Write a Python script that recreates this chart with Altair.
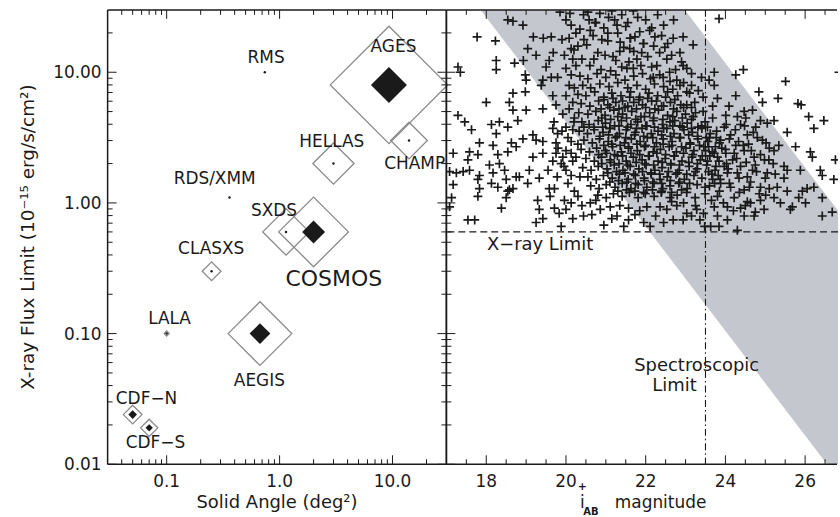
import altair as alt
import pandas as pd

FONT = "DejaVu Sans"
INK = "#1a1a1a"
W_LEFT, W_RIGHT, H = 340, 393, 456

# ---------------- left panel: survey depth vs. area ----------------
survey = ["AGES", "RMS", "CHAMP", "HELLAS", "RDS/XMM", "SXDS", "COSMOS",
          "CLASXS", "LALA", "AEGIS", "CDF−N", "CDF−S"]
solid_angle = [9.3, 0.74, 14.0, 3.0, 0.36, 1.14, 2.0, 0.25, 0.1, 0.67, 0.05, 0.07]
flux_limit = [8.0, 10.0, 3.0, 2.0, 1.1, 0.6, 0.6, 0.3, 0.1, 0.1, 0.024, 0.019]
n_xray = [5100, 0, 500, 630, 0, 800, 1800, 130, 10, 1500, 130, 110]
n_spec = [480, 0, 0, 0, 0, 0, 195, 0, 0, 160, 28, 20]
label_x = [10.2, 0.76, 15.7, 2.9, 0.266, 0.893, 3.02, 0.248, 0.106, 0.662, 0.0663, 0.0796]
label_y = [15.7, 12.9, 1.98, 2.91, 1.52, 0.871, 0.262, 0.444, 0.130, 0.0437, 0.0313, 0.0146]

area_major = [0.1, 1, 10]
area_labels = ["0.1", "1.0", "10.0"]
area_minor = [0.04, 0.05, 0.06, 0.07, 0.08, 0.09, 0.2, 0.3, 0.4, 0.5, 0.6, 0.7,
              0.8, 0.9, 2, 3, 4, 5, 6, 7, 8, 9, 20]
flux_major = [0.01, 0.1, 1, 10]
flux_labels = ["0.01", "0.10", "1.00", "10.00"]
flux_minor = [0.02, 0.03, 0.04, 0.05, 0.06, 0.07, 0.08, 0.09, 0.2, 0.3, 0.4, 0.5,
              0.6, 0.7, 0.8, 0.9, 2, 3, 4, 5, 6, 7, 8, 9, 20]

# ---------------- right panel: X-ray flux vs. optical magnitude ----------------
# (i_AB magnitude, log10 X-ray flux) of individual sources
src_field = [
    (17.77, 1.27), (18.23, 1.24), (18.54, 1.40), (18.67, 1.39), (18.92, 1.36), (19.18, 1.27),
    (19.43, 1.26), (19.63, 1.27), (19.04, 1.18), (19.25, 1.13), (19.68, 1.15), (18.25, 1.09),
    (18.25, 1.02), (18.71, 1.07), (18.93, 1.09), (17.29, 1.04), (17.35, 1.00), (18.98, 0.98),
    (19.00, 0.94), (19.50, 1.04), (19.58, 1.09), (19.42, 0.94), (19.63, 0.96), (19.79, 0.96),
    (19.38, 0.90), (18.67, 0.84), (18.98, 0.85), (18.00, 0.77), (18.58, 0.77), (18.67, 0.71),
    (19.00, 0.71), (19.42, 0.72), (19.67, 0.82), (19.75, 0.75), (19.92, 0.68), (17.29, 0.67),
    (17.46, 0.62), (18.33, 0.62), (18.79, 0.63),
    (20.00, 1.40), (20.13, 1.36), (20.08, 1.26), (20.13, 1.18), (19.96, 1.13), (20.17, 1.10),
    (20.00, 1.03), (20.13, 0.98), (20.08, 0.90), (20.21, 0.88), (20.00, 0.82), (20.17, 0.77),
    (20.08, 0.72), (20.21, 0.65),
    (17.63, 0.56), (18.13, 0.60), (18.54, 0.58), (18.25, 0.53), (17.83, 0.46), (18.17, 0.44),
    (18.63, 0.46), (18.75, 0.43), (18.92, 0.49), (19.17, 0.52), (19.25, 0.48), (19.42, 0.47),
    (19.67, 0.57), (19.79, 0.53), (19.75, 0.46), (20.00, 0.58), (20.17, 0.56), (20.13, 0.47),
    (17.17, 0.38), (17.58, 0.39), (17.79, 0.37), (18.29, 0.37), (18.54, 0.39), (19.17, 0.35),
    (19.42, 0.38), (19.75, 0.38), (19.92, 0.35), (20.13, 0.38),
    (17.54, 0.33), (18.08, 0.29), (18.33, 0.30), (19.67, 0.32), (19.88, 0.30), (20.17, 0.32),
    (17.08, 0.24), (17.25, 0.23), (17.42, 0.24), (17.58, 0.25), (17.83, 0.21), (18.17, 0.23),
    (18.46, 0.25), (18.75, 0.20), (19.08, 0.25), (20.00, 0.25), (20.13, 0.21),
    (17.17, 0.14), (17.79, 0.18), (18.13, 0.15), (18.50, 0.18), (18.83, 0.20), (19.04, 0.15),
    (19.33, 0.19), (17.83, 0.11), (18.29, 0.12), (18.58, 0.10), (18.67, 0.11), (19.58, 0.11),
    (19.71, 0.11), (17.13, 0.04), (17.79, 0.05), (18.50, 0.04), (18.54, 0.09), (19.29, 0.02),
    (19.96, 0.02), (20.13, 0.00), (20.21, 0.09), (17.08, -0.03), (18.38, -0.04), (19.33, -0.05),
    (19.71, -0.04), (19.83, -0.08), (17.54, -0.13), (17.71, -0.13), (19.25, -0.15),
    (19.42, -0.12), (19.88, -0.18), (20.17, -0.12),
    (19.70, 0.62), (19.90, 0.55), (20.05, 0.50), (20.30, 0.45), (19.80, 0.42), (20.00, 0.40),
    (20.25, 0.35), (19.95, 0.28), (20.35, 0.20), (19.78, 0.20), (20.05, 0.15), (20.30, 0.05),
    (19.60, 0.05), (20.00, -0.05), (20.40, -0.02), (19.55, 0.25), (20.45, 0.58), (20.20, 0.62),
]
src_faint = [
    (23.84, 1.41), (23.72, 1.00), (24.26, 0.98), (24.45, 1.02), (23.59, 0.94), (23.72, 0.90),
    (25.51, 0.93), (23.80, 0.80), (24.26, 0.82), (24.84, 0.85), (24.93, 0.77), (25.32, 0.80),
    (25.82, 0.76), (25.90, 0.75), (23.68, 0.74), (24.09, 0.74), (24.47, 0.70), (24.68, 0.71),
    (24.01, 0.67), (24.30, 0.66), (24.51, 0.65), (24.88, 0.63), (25.22, 0.63), (26.09, 0.66),
    (26.47, 0.63), (23.68, 0.65), (26.85, 1.00),
    (26.22, 0.57), (25.55, 0.54), (25.76, 0.43), (26.13, 0.39), (26.18, 0.35), (26.76, 0.33),
    (26.38, 0.25), (26.43, 0.21), (26.72, 0.18), (25.88, 0.25), (26.05, 0.11), (26.22, 0.12),
    (26.43, 0.04), (26.68, -0.07), (26.43, -0.10), (25.93, 0.09), (25.68, -0.03), (25.63, -0.05),
    (25.38, 0.00), (25.22, 0.04), (25.01, 0.06), (24.88, 0.02), (24.63, 0.00), (24.47, -0.10),
    (24.30, -0.21), (24.72, -0.10), (24.05, -0.13), (23.84, -0.18), (23.63, -0.18), (25.55, 0.09),
    (25.30, 0.12), (25.47, 0.19), (25.05, 0.23), (25.84, 0.04), (26.01, 0.00), (25.09, 0.33),
    (25.22, 0.40), (25.47, 0.28), (25.55, 0.25), (24.93, 0.48), (25.34, 0.44), (24.55, 0.52),
    (24.76, 0.58), (25.05, 0.61), (24.13, 0.52), (23.88, 0.48), (24.26, 0.44), (24.47, 0.40),
    (24.72, 0.35), (24.18, 0.33), (24.38, 0.28), (24.68, 0.25), (24.05, 0.23), (24.34, 0.19),
    (24.63, 0.16), (24.88, 0.12), (23.88, 0.15), (24.13, 0.12), (24.47, 0.10), (23.80, 0.05),
    (24.22, 0.04), (24.55, 0.01), (23.72, -0.03), (24.05, -0.03), (24.38, -0.04), (24.97, -0.05),
    (23.80, -0.10), (23.72, 0.38), (23.76, 0.28), (23.68, 0.18), (24.01, 0.38), (23.97, 0.58),
    (24.38, 0.60),
    (23.55, 0.58), (23.78, 0.55), (24.02, 0.60), (24.25, 0.56), (24.48, 0.59), (24.70, 0.54),
    (23.60, 0.50), (23.85, 0.46), (24.10, 0.49), (24.33, 0.47), (24.58, 0.45), (24.80, 0.50),
    (25.02, 0.46), (23.50, 0.40), (23.75, 0.43), (24.00, 0.41), (24.22, 0.38), (24.45, 0.44),
    (24.65, 0.40), (24.88, 0.37), (25.10, 0.42), (23.55, 0.32), (23.80, 0.35), (24.03, 0.30),
    (24.28, 0.34), (24.52, 0.31), (24.75, 0.29), (24.98, 0.33), (25.20, 0.30), (23.58, 0.24),
    (23.82, 0.21), (24.07, 0.26), (24.30, 0.23), (24.55, 0.20), (24.78, 0.24), (25.00, 0.19),
    (25.25, 0.22), (23.60, 0.13), (23.85, 0.09), (24.10, 0.15), (24.35, 0.08), (24.60, 0.12),
    (24.85, 0.07), (25.10, 0.11), (23.65, 0.02), (23.95, 0.00), (24.20, -0.06), (24.50, -0.02),
    (24.75, -0.07),
]
src_bright_band = [
    (21.69, 1.47), (21.07, 1.42), (20.44, 1.44), (20.73, 1.38), (21.28, 1.36), (20.61, 1.32),
    (22.23, 1.27), (22.69, 1.26), (22.94, 1.27), (21.61, 1.26), (21.73, 1.27), (21.94, 1.22),
    (21.36, 1.23), (22.48, 1.19), (23.19, 1.21), (22.86, 1.15), (21.90, 1.15), (22.53, 1.10),
    (22.28, 1.05), (22.15, 1.04), (21.78, 1.10), (21.53, 1.03), (21.69, 1.03), (22.94, 1.05),
    (23.03, 1.03), (23.15, 0.99), (23.40, 0.96), (22.44, 0.96), (22.19, 0.96), (22.61, 0.93),
    (22.86, 0.90), (22.78, 0.94), (23.15, 0.90), (23.32, 0.86), (23.03, 0.85), (23.44, 0.81),
    (23.23, 0.77), (23.03, 0.75), (23.44, 0.70), (23.19, 0.66), (22.73, 0.63),
    (20.35, 1.33), (20.52, 1.21), (20.68, 1.28), (20.80, 1.15), (20.95, 1.34), (21.05, 1.24),
    (21.18, 1.12), (21.30, 1.30), (21.45, 1.19), (21.58, 1.08), (21.70, 1.16), (21.85, 1.31),
    (21.95, 1.22), (20.40, 1.10), (20.60, 1.05), (20.88, 1.02), (21.12, 1.01), (21.40, 1.04),
    (20.30, 1.20), (20.75, 1.38), (21.22, 1.40), (21.50, 1.35), (20.45, 1.25), (20.98, 1.13),
    (21.62, 1.26), (22.05, 1.12), (22.10, 1.32), (21.88, 1.05), (20.58, 1.40), (21.35, 1.16),
    (19.85, 1.46), (20.10, 1.45), (20.25, 1.30), (20.55, 1.46), (20.85, 1.45), (20.90, 1.25),
    (21.15, 1.47), (21.40, 1.44), (21.55, 1.38), (21.80, 1.42), (22.00, 1.40), (22.30, 1.44),
    (22.45, 1.36), (22.70, 1.40), (22.20, 1.20), (22.40, 1.28), (22.65, 1.13), (22.90, 1.08),
    (22.75, 1.02), (22.35, 1.15), (21.25, 1.09), (20.70, 1.10), (20.25, 1.05), (19.90, 1.25),
    (20.20, 1.17), (21.05, 1.30), (21.60, 1.18), (22.15, 1.34), (22.55, 1.22),
]
src_near_limit = [
    (20.44, -0.10), (20.65, -0.09), (21.28, -0.10), (21.57, -0.13), (21.73, -0.09), (22.11, -0.18),
    (22.69, -0.13), (22.53, -0.05), (22.03, -0.03), (21.57, -0.04), (21.11, -0.03), (20.86, -0.05),
    (20.61, 0.00), (23.03, -0.08), (23.28, -0.05), (23.36, -0.13), (23.48, -0.18), (22.94, -0.13),
    (22.36, -0.03), (22.78, -0.02),
    (21.35, -0.02), (21.85, -0.06), (22.25, -0.10), (22.95, 0.00), (23.15, -0.10), (22.45, -0.15),
    (21.95, -0.15), (21.45, -0.18), (23.25, -0.02), (22.65, 0.01), (21.15, -0.12), (20.95, -0.17),
    (20.75, 0.02), (23.45, -0.08),
]
src_core_upper = [
    (20.35, 0.97), (20.55, 0.95), (20.78, 0.99), (21.00, 0.96), (21.25, 0.98), (21.48, 0.94),
    (21.70, 0.97), (21.92, 0.99), (22.12, 0.95), (22.35, 0.98), (22.60, 1.00),
    (20.42, 0.90), (20.62, 0.88), (20.85, 0.91), (21.08, 0.89), (21.30, 0.92), (21.55, 0.88),
    (21.78, 0.90), (22.00, 0.87), (22.22, 0.91), (22.45, 0.89), (22.68, 0.87), (22.95, 0.92),
    (20.30, 0.83), (20.50, 0.82), (20.72, 0.85), (20.95, 0.81), (21.15, 0.84), (21.38, 0.82),
    (21.62, 0.85), (21.85, 0.81), (22.08, 0.84), (22.30, 0.82), (22.55, 0.85), (22.80, 0.82),
    (23.10, 0.84),
    (20.38, 0.76), (20.60, 0.74), (20.82, 0.78), (21.05, 0.75), (21.25, 0.77), (21.48, 0.73),
    (21.70, 0.77), (21.92, 0.75), (22.15, 0.78), (22.40, 0.74), (22.62, 0.77), (22.88, 0.75),
    (23.15, 0.73),
    (20.32, 0.69), (20.55, 0.68), (20.75, 0.70), (20.98, 0.67), (21.20, 0.71), (21.42, 0.68),
    (21.65, 0.70), (21.88, 0.66), (22.10, 0.69), (22.32, 0.71), (22.55, 0.67), (22.78, 0.70),
    (23.00, 0.68), (23.25, 0.69),
]
src_core_lower = [
    (20.40, 0.62), (20.58, 0.60), (20.81, 0.63), (20.99, 0.61), (21.22, 0.59), (21.39, 0.63),
    (21.63, 0.60), (21.80, 0.62), (22.03, 0.59), (22.19, 0.63), (22.42, 0.60), (22.61, 0.62),
    (22.86, 0.59), (23.04, 0.61), (23.31, 0.58), (23.49, 0.62),
    (20.33, 0.55), (20.54, 0.53), (20.71, 0.56), (20.93, 0.54), (21.10, 0.57), (21.34, 0.53),
    (21.51, 0.56), (21.74, 0.54), (21.91, 0.57), (22.14, 0.53), (22.31, 0.55), (22.53, 0.57),
    (22.71, 0.53), (22.96, 0.56), (23.17, 0.54), (23.41, 0.57), (23.62, 0.53),
    (20.45, 0.48), (20.66, 0.46), (20.84, 0.49), (21.06, 0.47), (21.24, 0.50), (21.47, 0.46),
    (21.64, 0.49), (21.86, 0.47), (22.04, 0.50), (22.27, 0.46), (22.44, 0.49), (22.66, 0.47),
    (22.87, 0.50), (23.11, 0.46), (23.31, 0.49), (23.56, 0.47), (23.77, 0.50),
    (20.38, 0.41), (20.59, 0.39), (20.77, 0.42), (20.99, 0.40), (21.17, 0.43), (21.39, 0.39),
    (21.57, 0.42), (21.79, 0.40), (21.97, 0.43), (22.19, 0.39), (22.37, 0.41), (22.59, 0.43),
    (22.77, 0.39), (23.01, 0.42), (23.21, 0.40), (23.46, 0.43), (23.67, 0.39), (23.91, 0.42),
    (20.50, 0.34), (20.71, 0.32), (20.89, 0.35), (21.11, 0.33), (21.29, 0.36), (21.51, 0.32),
    (21.69, 0.35), (21.91, 0.33), (22.09, 0.36), (22.31, 0.32), (22.49, 0.34), (22.71, 0.36),
    (22.91, 0.32), (23.16, 0.35), (23.37, 0.33), (23.61, 0.36), (23.84, 0.32),
    (20.42, 0.27), (20.63, 0.25), (20.81, 0.28), (21.03, 0.26), (21.21, 0.29), (21.43, 0.25),
    (21.61, 0.28), (21.83, 0.26), (22.01, 0.29), (22.23, 0.25), (22.41, 0.27), (22.63, 0.29),
    (22.84, 0.25), (23.09, 0.28), (23.29, 0.26), (23.53, 0.29), (23.74, 0.25), (23.97, 0.28),
    (20.55, 0.20), (20.76, 0.18), (20.94, 0.21), (21.16, 0.19), (21.34, 0.22), (21.56, 0.18),
    (21.74, 0.21), (21.96, 0.19), (22.14, 0.22), (22.36, 0.18), (22.54, 0.20), (22.76, 0.22),
    (22.97, 0.18), (23.21, 0.21), (23.41, 0.19), (23.66, 0.22), (23.87, 0.18),
    (20.62, 0.13), (20.83, 0.11), (21.01, 0.14), (21.23, 0.12), (21.41, 0.15), (21.63, 0.11),
    (21.81, 0.14), (22.03, 0.12), (22.21, 0.15), (22.43, 0.11), (22.61, 0.13), (22.83, 0.15),
    (23.04, 0.11), (23.29, 0.14), (23.49, 0.12), (23.73, 0.15),
    (20.80, 0.06), (21.01, 0.04), (21.19, 0.07), (21.41, 0.05), (21.59, 0.08), (21.81, 0.04),
    (21.99, 0.07), (22.21, 0.05), (22.39, 0.08), (22.61, 0.04), (22.79, 0.06), (23.03, 0.08),
    (23.24, 0.04), (23.49, 0.07),
]
src_core_dense = [
    (20.95, 0.79), (21.18, 0.80), (21.42, 0.78), (21.60, 0.81), (21.83, 0.79), (22.05, 0.80),
    (22.27, 0.78), (22.50, 0.81), (22.73, 0.79),
    (20.88, 0.72), (21.10, 0.73), (21.33, 0.72), (21.55, 0.74), (21.77, 0.72), (22.00, 0.73),
    (22.23, 0.72), (22.45, 0.74), (22.70, 0.72), (22.95, 0.73),
    (20.90, 0.65), (21.12, 0.64), (21.30, 0.66), (21.52, 0.65), (21.75, 0.64), (21.97, 0.66),
    (22.20, 0.65), (22.43, 0.64), (22.68, 0.66), (22.92, 0.65), (23.15, 0.64),
    (20.70, 0.58), (20.92, 0.58), (21.10, 0.57), (21.33, 0.59), (21.55, 0.58), (21.77, 0.57),
    (22.00, 0.59), (22.22, 0.58), (22.45, 0.57), (22.68, 0.59), (22.92, 0.58), (23.15, 0.57),
    (23.40, 0.59),
    (20.85, 0.51), (21.07, 0.52), (21.28, 0.51), (21.50, 0.50), (21.72, 0.52), (21.95, 0.51),
    (22.18, 0.50), (22.40, 0.52), (22.62, 0.51), (22.85, 0.50), (23.08, 0.52), (23.30, 0.51),
    (23.52, 0.50),
    (20.95, 0.44), (21.15, 0.45), (21.36, 0.44), (21.57, 0.43), (21.78, 0.45), (22.00, 0.44),
    (22.22, 0.43), (22.44, 0.45), (22.66, 0.44), (22.90, 0.43), (23.12, 0.45), (23.35, 0.44),
    (23.58, 0.43),
    (20.82, 0.37), (21.02, 0.38), (21.22, 0.37), (21.42, 0.36), (21.63, 0.38), (21.85, 0.37),
    (22.07, 0.36), (22.28, 0.38), (22.50, 0.37), (22.72, 0.36), (22.95, 0.38), (23.18, 0.37),
    (23.42, 0.36),
    (20.90, 0.30), (21.12, 0.31), (21.33, 0.30), (21.55, 0.29), (21.76, 0.31), (21.98, 0.30),
    (22.20, 0.29), (22.42, 0.31), (22.63, 0.30), (22.85, 0.29), (23.08, 0.31), (23.30, 0.30),
    (21.05, 0.23), (21.27, 0.24), (21.48, 0.23), (21.70, 0.22), (21.92, 0.24), (22.13, 0.23),
    (22.35, 0.22), (22.57, 0.24), (22.80, 0.23), (23.03, 0.22), (23.25, 0.24),
    (21.10, 0.16), (21.32, 0.17), (21.53, 0.16), (21.75, 0.15), (21.97, 0.17), (22.18, 0.16),
    (22.40, 0.15), (22.62, 0.17), (22.85, 0.16), (23.10, 0.15),
    (21.30, 0.09), (21.52, 0.10), (21.73, 0.09), (21.95, 0.08), (22.17, 0.10), (22.40, 0.09),
    (22.65, 0.08), (22.90, 0.10),
]

# limits of the X-ray-to-optical flux-ratio band (log fX/fopt = -1 ... +1)
band_mag = [16.0, 28.0]
band_lo = [166.0, 0.00263]
band_hi = [18600.0, 0.295]
xray_limit = 0.6
spec_limit = 23.5
note_text = ["X−ray Limit", "Spectroscopic", "Limit"]
note_mag = [19.35, 23.28, 22.725]
note_flux = [0.474, 0.0563, 0.0394]

mag_major = [18, 20, 22, 24, 26]
mag_labels = ["18", "20", "22", "24", "26"]
mag_minor = [17.5, 18.5, 19, 19.5, 20.5, 21, 21.5, 22.5, 23, 23.5, 24.5, 25, 25.5, 26.5]

# ---------------- shared helpers ----------------
x_area = alt.Scale(type="log", domain=[0.03, 30], nice=False)
y_flux = alt.Scale(type="log", domain=[0.01, 30], nice=False)
x_mag = alt.Scale(type="linear", domain=[17, 26.825], nice=False, zero=False)
size_scale = alt.Scale(type="linear", domain=[0, 1000], range=[0, 2720], zero=True)
one = pd.DataFrame({"k": [0]})

MAJOR, MINOR = 9, 5


def x_ticks(values, length, xscale):
    df = pd.DataFrame({"v": values})
    enc_x = alt.X("v:Q", scale=xscale, axis=None)
    return [
        alt.Chart(df).mark_rule(color=INK, strokeWidth=1).encode(
            x=enc_x, y=alt.value(H), y2=alt.value(H - length)),
        alt.Chart(df).mark_rule(color=INK, strokeWidth=1).encode(
            x=enc_x, y=alt.value(0), y2=alt.value(length)),
    ]


def y_ticks(values, length, x_edge, inward):
    df = pd.DataFrame({"v": values})
    return alt.Chart(df).mark_rule(color=INK, strokeWidth=1).encode(
        y=alt.Y("v:Q", scale=y_flux, axis=None),
        x=alt.value(x_edge), x2=alt.value(x_edge + inward * length))


def x_labels(values, texts, xscale):
    df = pd.DataFrame({"v": values, "t": texts})
    return alt.Chart(df).mark_text(
        font=FONT, fontSize=17, color=INK, align="center", baseline="alphabetic"
    ).encode(x=alt.X("v:Q", scale=xscale, axis=None), y=alt.value(H + 23), text="t:N")


def y_labels(values, texts):
    df = pd.DataFrame({"v": values, "t": texts})
    return alt.Chart(df).mark_text(
        font=FONT, fontSize=17, color=INK, align="right", baseline="alphabetic", dy=6
    ).encode(y=alt.Y("v:Q", scale=y_flux, axis=None), x=alt.value(-6), text="t:N")


def hline(y, x0, x1):
    return alt.Chart(one).mark_rule(color=INK, strokeWidth=1.5).encode(
        x=alt.value(x0), x2=alt.value(x1), y=alt.value(y))


def vline(x):
    return alt.Chart(one).mark_rule(color=INK, strokeWidth=1.5).encode(
        x=alt.value(x), y=alt.value(0), y2=alt.value(H))


def fixed_text(txt, x, y, size, align, baseline, weight="normal", angle=0):
    return alt.Chart(one).mark_text(
        text=txt, font=FONT, fontSize=size, color=INK, align=align,
        baseline=baseline, fontWeight=weight, angle=angle,
    ).encode(x=alt.value(x), y=alt.value(y))


# ---------------- left panel ----------------
surveys = pd.DataFrame({
    "survey": survey, "solid_angle": solid_angle, "flux_limit": flux_limit,
    "n_xray": n_xray, "n_spec": n_spec, "label_x": label_x, "label_y": label_y,
})

outer = alt.Chart(surveys).transform_filter("datum.n_xray > 0").mark_point(
    shape="diamond", filled=False, stroke="#8a8a8a", strokeWidth=1.3, opacity=1
).encode(
    x=alt.X("solid_angle:Q", scale=x_area, axis=None),
    y=alt.Y("flux_limit:Q", scale=y_flux, axis=None),
    size=alt.Size("n_xray:Q", scale=size_scale, legend=None),
)
inner = alt.Chart(surveys).transform_filter("datum.n_spec > 0").mark_point(
    shape="diamond", filled=True, color=INK, opacity=1
).encode(
    x=alt.X("solid_angle:Q", scale=x_area, axis=None),
    y=alt.Y("flux_limit:Q", scale=y_flux, axis=None),
    size=alt.Size("n_spec:Q", scale=size_scale, legend=None),
)
centres = alt.Chart(surveys).mark_point(
    shape="circle", filled=True, color=INK, size=6, opacity=1
).encode(
    x=alt.X("solid_angle:Q", scale=x_area, axis=None),
    y=alt.Y("flux_limit:Q", scale=y_flux, axis=None),
)
names = alt.Chart(surveys).mark_text(
    font=FONT, color=INK, align="center", baseline="middle"
).encode(
    x=alt.X("label_x:Q", scale=x_area, axis=None),
    y=alt.Y("label_y:Q", scale=y_flux, axis=None),
    text="survey:N",
    size=alt.condition("datum.survey == 'COSMOS'", alt.value(22), alt.value(17)),
)

left_layers = [outer, inner, centres, names]
left_layers += x_ticks(area_major, MAJOR, x_area) + x_ticks(area_minor, MINOR, x_area)
left_layers += [
    y_ticks(flux_major, MAJOR, 0, 1), y_ticks(flux_minor, MINOR, 0, 1),
    y_ticks(flux_major, MAJOR, W_LEFT, -1), y_ticks(flux_minor, MINOR, W_LEFT, -1),
    hline(0, 0, W_LEFT), hline(H, 0, W_LEFT), vline(0), vline(W_LEFT),
    x_labels(area_major, area_labels, x_area), y_labels(flux_major, flux_labels),
    fixed_text("Solid Angle (deg²)", W_LEFT / 2, H + 44, 18, "center", "alphabetic"),
    fixed_text("X-ray Flux Limit (10⁻¹⁵ erg/s/cm²)", -74, H / 2, 18.5, "center",
               "alphabetic", angle=270),
]
left = alt.layer(*left_layers).properties(width=W_LEFT, height=H)

# ---------------- right panel ----------------
src = pd.DataFrame(
    src_field + src_faint + src_bright_band + src_near_limit
    + src_core_upper + src_core_lower + src_core_dense,
    columns=["mag", "logfx"],
)
src["flux"] = 10 ** src["logfx"]

band = pd.DataFrame({"mag": band_mag, "lo": band_lo, "hi": band_hi})
notes = pd.DataFrame({"text": note_text, "mag": note_mag, "flux": note_flux})

band_area = alt.Chart(band).mark_area(color="#c5c7ce", clip=True, opacity=1).encode(
    x=alt.X("mag:Q", scale=x_mag, axis=None),
    y=alt.Y("lo:Q", scale=y_flux, axis=None),
    y2="hi:Q",
)
crosses = alt.Chart(src).mark_point(
    shape="M-1,0L1,0M0,-1L0,1", filled=False, stroke=INK, strokeWidth=1.7,
    size=81, opacity=1, clip=True,
).encode(
    x=alt.X("mag:Q", scale=x_mag, axis=None),
    y=alt.Y("flux:Q", scale=y_flux, axis=None),
)
xray_rule = alt.Chart(pd.DataFrame({"flux": [xray_limit]})).mark_rule(
    color=INK, strokeWidth=1.1, strokeDash=[7, 4]
).encode(y=alt.Y("flux:Q", scale=y_flux, axis=None))
spec_rule = alt.Chart(pd.DataFrame({"mag": [spec_limit]})).mark_rule(
    color=INK, strokeWidth=1.1, strokeDash=[7, 3, 1.5, 3]
).encode(x=alt.X("mag:Q", scale=x_mag, axis=None))
note_marks = alt.Chart(notes).mark_text(
    font=FONT, fontSize=18, color=INK, align="center", baseline="middle"
).encode(
    x=alt.X("mag:Q", scale=x_mag, axis=None),
    y=alt.Y("flux:Q", scale=y_flux, axis=None),
    text="text:N",
)

x_title = [
    fixed_text("i", 136.5, 499.5, 17, "center", "alphabetic"),
    fixed_text("+", 136.5, 482, 11, "center", "alphabetic", "bold"),
    fixed_text("AB", 145, 507, 10, "center", "alphabetic", "bold"),
    fixed_text("magnitude", 169, 499.5, 17, "left", "alphabetic"),
]

right_layers = [band_area, crosses, xray_rule, spec_rule, note_marks] + x_title
right_layers += x_ticks(mag_major, MAJOR, x_mag) + x_ticks(mag_minor, MINOR, x_mag)
right_layers += [
    y_ticks(flux_major, MAJOR, 0, 1), y_ticks(flux_minor, MINOR, 0, 1),
    hline(0, 0, W_RIGHT - 1), hline(H, 0, W_RIGHT - 1), vline(0),
    x_labels(mag_major, mag_labels, x_mag),
]
right = alt.layer(*right_layers).properties(width=W_RIGHT, height=H)

chart = alt.hconcat(left, right, spacing=0, bounds="flush").resolve_scale(
    x="independent", y="independent", size="independent"
).properties(
    padding={"left": 18, "top": 7, "right": 0, "bottom": 0},
    background="white",
).configure_view(
    stroke="transparent"
)

chart.save("out.html", embed_options={"renderer": "svg", "actions": False})
